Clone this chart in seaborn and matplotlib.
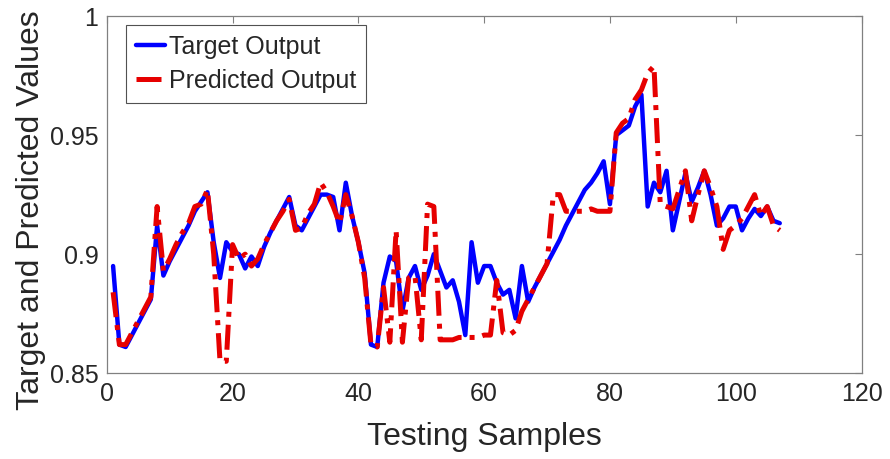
import numpy as np
import pandas as pd
import matplotlib
matplotlib.use('Agg')
import matplotlib.pyplot as plt
import seaborn as sns

# sample index 1..107
samples = list(range(1, 108))

target = [0.895, 0.862, 0.861, 0.866, 0.871, 0.876, 0.881, 0.912, 0.891, 0.897,
          0.902, 0.907, 0.912, 0.918, 0.922, 0.926, 0.905, 0.890, 0.905, 0.901,
          0.900, 0.894, 0.899, 0.895, 0.903, 0.909, 0.914, 0.919, 0.924, 0.912,
          0.910, 0.915, 0.920, 0.925, 0.925, 0.924, 0.910, 0.930, 0.916, 0.905,
          0.892, 0.862, 0.861, 0.888, 0.899, 0.897, 0.876, 0.890, 0.895, 0.885,
          0.891, 0.900, 0.893, 0.886, 0.889, 0.880, 0.866, 0.905, 0.888, 0.895,
          0.895, 0.888, 0.883, 0.885, 0.873, 0.895, 0.880, 0.886, 0.891, 0.896,
          0.901, 0.906, 0.912, 0.917, 0.922, 0.927, 0.930, 0.934, 0.939, 0.921,
          0.950, 0.952, 0.954, 0.962, 0.967, 0.920, 0.930, 0.926, 0.935, 0.910,
          0.922, 0.934, 0.922, 0.928, 0.935, 0.925, 0.912, 0.915, 0.920, 0.920,
          0.910, 0.915, 0.919, 0.916, 0.920, 0.914, 0.913]

predicted = [0.884, 0.862, 0.862, 0.867, 0.872, 0.877, 0.882, 0.920, 0.893, 0.898,
             0.904, 0.909, 0.913, 0.920, 0.921, 0.927, 0.900, 0.855, 0.855, 0.904,
             0.898, 0.900, 0.895, 0.898, 0.904, 0.909, 0.914, 0.918, 0.923, 0.910,
             0.911, 0.917, 0.921, 0.930, 0.926, 0.920, 0.913, 0.925, 0.916, 0.905,
             0.890, 0.862, 0.861, 0.886, 0.863, 0.910, 0.863, 0.890, 0.891, 0.864,
             0.921, 0.920, 0.864, 0.864, 0.864, 0.865, 0.865, 0.865, 0.865, 0.866,
             0.866, 0.889, 0.867, 0.866, 0.868, 0.876, 0.881, 0.886, 0.891, 0.896,
             0.925, 0.925, 0.918, 0.918, 0.918, 0.918, 0.919, 0.918, 0.918, 0.918,
             0.951, 0.955, 0.957, 0.965, 0.969, 0.976, 0.979, 0.921, 0.920, 0.919,
             0.927, 0.935, 0.914, 0.925, 0.935, 0.928, 0.920, 0.902, 0.910, 0.912,
             0.915, 0.920, 0.925, 0.916, 0.920, 0.912, 0.910]

df = pd.DataFrame({'sample': samples, 'target': target, 'predicted': predicted})

sns.set_style('white')
plt.rcParams['font.family'] = ['Liberation Sans', 'DejaVu Sans']

fig = plt.figure(figsize=(8.9, 4.59), dpi=100)
ax = fig.add_axes([0.120, 0.187, 0.848, 0.778])

sns.lineplot(data=df, x='sample', y='target', ax=ax, color='#0000ff', linewidth=3.2,
             label='Target Output')
sns.lineplot(data=df, x='sample', y='predicted', ax=ax, color='#e60000', linewidth=3.6,
             linestyle=(0, (5, 1.6, 1, 1.6)), label='Predicted Output')

ax.set_xlim(0, 120)
ax.set_ylim(0.85, 1.0)
ax.set_xticks([0, 20, 40, 60, 80, 100, 120])
ax.set_yticks([0.85, 0.9, 0.95, 1.0])
ax.set_yticklabels(['0.85', '0.9', '0.95', '1'])
ax.tick_params(direction='in', length=5, width=0.8, color='#808080', labelsize=18,
               labelcolor='#262626', top=True, right=True, pad=6)
for s in ax.spines.values():
    s.set_color('#808080')
    s.set_linewidth(0.9)

ax.set_xlabel('Testing Samples', fontsize=23, color='#262626', labelpad=12)
ax.set_ylabel('Target and Predicted Values', fontsize=23, color='#262626')
ax.yaxis.set_label_coords(-0.08, 0.455)

leg = ax.legend(loc='upper left', bbox_to_anchor=(0.026, 0.975), borderaxespad=0,
                fontsize=18, frameon=True, fancybox=False,
                edgecolor='#262626', handlelength=1.15, borderpad=0.4,
                labelspacing=0.4, handletextpad=0.15)
leg.get_frame().set_linewidth(0.8)

fig.savefig('out.png', dpi=100)
